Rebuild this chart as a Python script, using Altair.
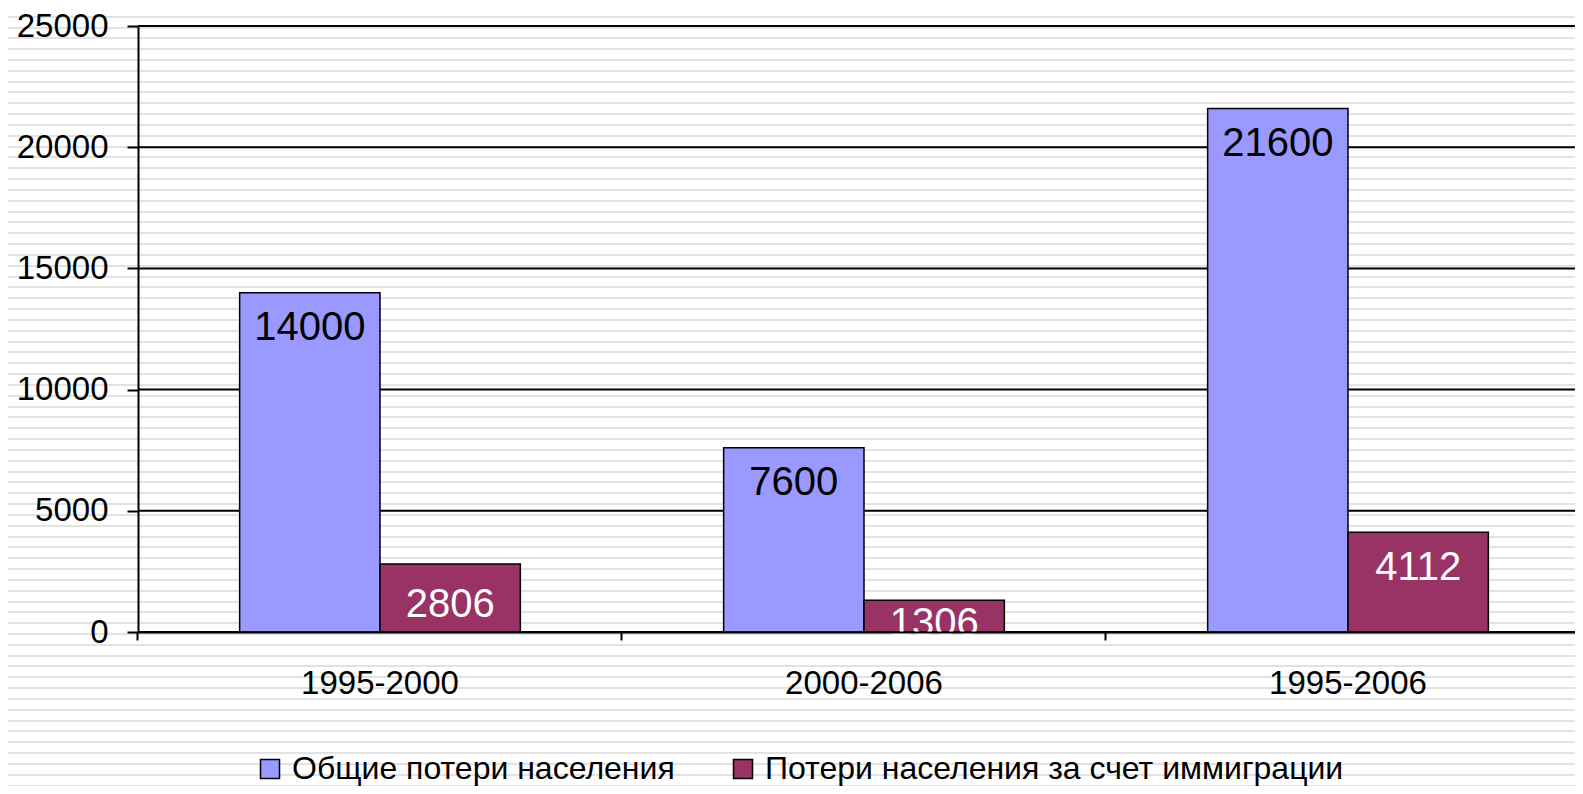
import altair as alt
import pandas as pd

# ---- data ----
periods = ["1995-2000", "2000-2006", "1995-2006"]
series_names = ["Общие потери населения", "Потери населения за счет иммиграции"]
total_losses = [14000, 7600, 21600]
immigration_losses = [2806, 1306, 4112]
y_ticks = [0, 5000, 10000, 15000, 20000, 25000]

rows = []
for p, a, b in zip(periods, total_losses, immigration_losses):
    rows.append({"period": p, "series": series_names[0], "value": a})
    rows.append({"period": p, "series": series_names[1], "value": b})
df = pd.DataFrame(rows)

# ---- layout / style ----
W, H = 1437, 606
X_RANGE = 1452  # band scale range (extends a little past the visible area, like the reference)
PAD = {"left": 130, "top": 18, "right": 0, "bottom": 154}
TOTAL_H = PAD["top"] + H + PAD["bottom"]
FONT = "Liberation Sans"
BLUE, MAROON = "#9999FF", "#993366"

# striped background as a gradient style (horizontal light-grey lines)
period_px = 10.83
first = 626.0
centers = []
c = first
while c > 0:
    centers.append(c)
    c -= period_px
c = first + period_px
while c < TOTAL_H:
    centers.append(c)
    c += period_px
centers.sort()
stops = [{"offset": 0, "color": "#ffffff"}]
for c in centers:
    lo = max(0.0, (c - 1.0) / TOTAL_H)
    hi = min(1.0, (c + 1.0) / TOTAL_H)
    stops += [
        {"offset": lo, "color": "#ffffff"},
        {"offset": lo, "color": "#e2e2e2"},
        {"offset": hi, "color": "#e2e2e2"},
        {"offset": hi, "color": "#ffffff"},
    ]
stops.append({"offset": 1, "color": "#ffffff"})
stripe_fill = {"gradient": "linear", "x1": 0, "y1": 0, "x2": 0, "y2": 1, "stops": stops}

bg = alt.Chart(pd.DataFrame({"k": [0]})).mark_rect(fill=stripe_fill, strokeWidth=0).encode(
    x=alt.value(-PAD["left"]),
    x2=alt.value(W + 20),
    y=alt.value(-PAD["top"]),
    y2=alt.value(H + PAD["bottom"]),
)

yscale = alt.Scale(domain=[0, 25000], nice=False)
yaxis = alt.Axis(
    title=None, values=y_ticks, format="d", tickSize=11, tickWidth=2, tickColor="black",
    domainColor="black", domainWidth=2, labelFont=FONT, labelFontSize=33,
    labelColor="black", labelPadding=19, grid=False, zindex=1,
)
xscale = alt.Scale(paddingInner=0.42, paddingOuter=0.21, range=[0, X_RANGE])
xaxis = alt.Axis(
    title=None, labelAngle=0, bandPosition=-0.364, tickSize=8, tickWidth=2,
    tickColor="black", domainColor="black", domainWidth=2,
    labelFont=FONT, labelFontSize=33, labelColor="black", labelPadding=27,
    grid=False, zindex=1,
)

grid = alt.Chart(pd.DataFrame({"tick": y_ticks})).mark_rule(color="black", strokeWidth=2).encode(
    y=alt.Y("tick:Q", scale=yscale, axis=yaxis)
)

xoff = alt.XOffset("series:N", sort=series_names, scale=alt.Scale(paddingInner=0, paddingOuter=0))

bars = alt.Chart(df).mark_bar(stroke="black", strokeWidth=1.5).encode(
    x=alt.X("period:N", sort=periods, scale=xscale, axis=xaxis),
    xOffset=xoff,
    y=alt.Y("value:Q", scale=yscale, axis=yaxis),
    color=alt.Color(
        "series:N",
        sort=series_names,
        scale=alt.Scale(domain=series_names, range=[BLUE, MAROON]),
        legend=alt.Legend(
            title=None, orient="none", legendX=116, legendY=727, direction="horizontal",
            columns=2, symbolType="square", symbolSize=361, symbolStrokeColor="black",
            symbolStrokeWidth=1.5, labelFont=FONT, labelFontSize=32, labelColor="black",
            labelOffset=6, columnPadding=52, labelLimit=2000, padding=0,
        ),
    ),
)

labels = alt.Chart(df).transform_calculate(
    label_y="datum.value > 3000 ? datum.value - 1960 : datum.value / 2 - 800"
).mark_text(font=FONT, fontSize=40, baseline="alphabetic", align="center").encode(
    x=alt.X("period:N", sort=periods, scale=xscale, axis=xaxis),
    xOffset=xoff,
    y=alt.Y("label_y:Q", scale=yscale, axis=yaxis),
    text=alt.Text("value:Q", format="d"),
    color=alt.condition(
        f"datum.series === '{series_names[0]}'", alt.value("black"), alt.value("white")
    ),
)

chart = alt.layer(bg, grid, bars, labels).properties(
    width=W, height=H,
    autosize=alt.AutoSizeParams(type="none"),
    padding=PAD,
).configure_view(stroke=None).configure(background="white")

chart.save("out.html", embed_options={"renderer": "svg", "actions": False})
